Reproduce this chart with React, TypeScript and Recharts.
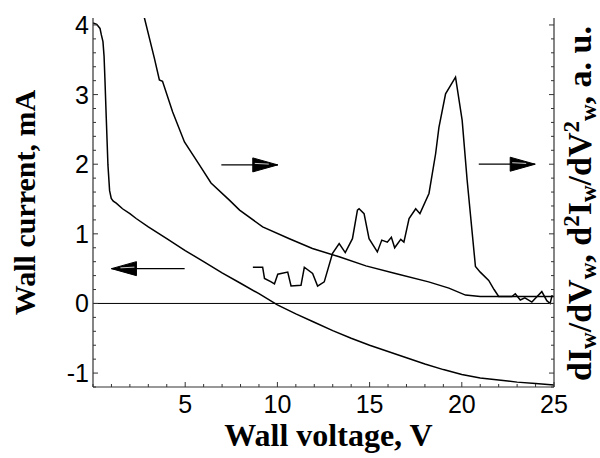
import React from 'react';
import { LineChart, Line, XAxis, YAxis, ReferenceLine, ReferenceDot, Label } from 'recharts';

// Wall current (left axis, mA)
const currentV = [0, 0.2, 0.38, 0.45, 0.54, 0.6, 0.65, 0.72, 0.81, 0.9, 0.99, 1.1, 1.26, 1.6, 2, 2.34, 3, 4, 5, 6, 7, 8, 9, 10, 11, 12, 13, 14, 15, 16, 17, 18, 19, 20, 21, 22, 23, 24, 25];
const currentI = [4.03, 4.01, 3.95, 3.86, 3.76, 3.55, 3.2, 2.66, 1.99, 1.62, 1.51, 1.47, 1.44, 1.36, 1.29, 1.22, 1.1, 0.93, 0.76, 0.6, 0.44, 0.29, 0.14, -0.02, -0.15, -0.27, -0.39, -0.5, -0.6, -0.69, -0.78, -0.87, -0.95, -1.02, -1.07, -1.1, -1.13, -1.15, -1.17];

// dIw/dVw (right axis, a.u.)
const derivV = [2.5, 2.79, 3.33, 3.6, 3.77, 4.32, 4.96, 5.77, 6.4, 7.41, 7.95, 9.2, 10.65, 11.9, 13.35, 14.8, 16.4, 18.2, 19.3, 20.2, 21.0, 21.8, 23.5, 25];
const derivI = [4.45, 4.1, 3.52, 3.21, 3.19, 2.75, 2.32, 1.99, 1.73, 1.48, 1.34, 1.1, 0.93, 0.79, 0.67, 0.54, 0.43, 0.31, 0.22, 0.12, 0.1, 0.1, 0.1, 0.1];

// d2Iw/dVw2 (right axis, a.u.)
const deriv2V = [8.67, 9.2, 9.3, 9.66, 9.84, 10.02, 10.56, 10.74, 11.28, 11.46, 11.91, 12.18, 12.54, 12.99, 13.35, 13.68, 14.07, 14.34, 14.43, 14.7, 14.97, 15.42, 15.66, 15.96, 16.18, 16.36, 16.69, 16.86, 17.14, 17.5, 17.73, 18.22, 18.58, 18.76, 19.12, 19.66, 20.02, 20.29, 20.74, 21.0, 21.46, 21.75, 22.0, 22.5, 22.72, 22.9, 23.17, 23.42, 23.8, 23.98, 24.34, 24.61, 24.79, 24.9];
const deriv2I = [0.52, 0.52, 0.36, 0.31, 0.28, 0.42, 0.45, 0.25, 0.26, 0.52, 0.43, 0.25, 0.31, 0.72, 0.86, 0.73, 0.93, 1.34, 1.36, 1.29, 0.93, 0.74, 0.91, 0.88, 0.95, 0.8, 0.92, 0.88, 1.22, 1.36, 1.29, 1.58, 2.15, 2.53, 3.01, 3.25, 2.63, 1.77, 0.53, 0.45, 0.33, 0.2, 0.1, 0.1, 0.1, 0.14, 0.05, 0.08, 0.02, 0.07, 0.17, 0.04, 0.0, 0.12];

const xTicks = [0, 1, 2, 3, 4, 5, 6, 7, 8, 9, 10, 11, 12, 13, 14, 15, 16, 17, 18, 19, 20, 21, 22, 23, 24, 25];
const xLabeled = [5, 10, 15, 20, 25];
const yTicks = [-1.2, -1, -0.8, -0.6, -0.4, -0.2, 0, 0.2, 0.4, 0.6, 0.8, 1, 1.2, 1.4, 1.6, 1.8, 2, 2.2, 2.4, 2.6, 2.8, 3, 3.2, 3.4, 3.6, 3.8, 4];
const yLabeled = [-1, 0, 1, 2, 3, 4];

// annotation arrows
const arrowTailX = [4.97, 6.96, 20.92];
const arrowTipX = [1.0, 10.02, 23.98];
const arrowY = [0.5, 1.99, 2.0];

const currentData = currentV.map((x, i) => ({ x, y: currentI[i] }));
const derivData = derivV.map((x, i) => ({ x, y: derivI[i] }));
const deriv2Data = deriv2V.map((x, i) => ({ x, y: deriv2I[i] }));

const FRAME = '#333';
const tickFont = '"Liberation Sans", Arial, sans-serif';
const labelFont = '"Liberation Serif", "Times New Roman", serif';

const isLabeled = (v: number, list: number[]) => list.some((l) => Math.abs(l - v) < 1e-6);

const BottomTick = (props: any) => {
  const { x, y, payload } = props;
  const major = isLabeled(payload.value, xLabeled);
  return (
    <g>
      <line x1={x} x2={x} y1={y} y2={y - (major ? 5 : 3)} stroke={FRAME} strokeWidth={1} />
      {major && (
        <text x={x} y={y + 26} textAnchor="middle" fontFamily={tickFont} fontSize={25} fill="#000">
          {payload.value}
        </text>
      )}
    </g>
  );
};

const TopTick = (props: any) => {
  const { x, y, payload } = props;
  const major = isLabeled(payload.value, xLabeled);
  return <line x1={x} x2={x} y1={y} y2={y + (major ? 5 : 3)} stroke={FRAME} strokeWidth={1} />;
};

const LeftTick = (props: any) => {
  const { x, y, payload } = props;
  const major = isLabeled(payload.value, yLabeled);
  return (
    <g>
      <line x1={x} x2={x + (major ? 5 : 3)} y1={y} y2={y} stroke={FRAME} strokeWidth={1} />
      {major && (
        <text x={x - 4} y={y + 9} textAnchor="end" fontFamily={tickFont} fontSize={25} fill="#000">
          {payload.value < 0 ? '-' + Math.abs(payload.value) : payload.value}
        </text>
      )}
    </g>
  );
};

const RightTick = (props: any) => {
  const { x, y, payload } = props;
  const major = isLabeled(payload.value, yLabeled);
  return <line x1={x} x2={x - (major ? 5 : 3)} y1={y} y2={y} stroke={FRAME} strokeWidth={1} />;
};

const BottomLabel = (props: any) => {
  const vb = props.viewBox || { x: 93, y: 387, width: 461 };
  return (
    <text x={vb.x + vb.width / 2 + 5} y={vb.y + 59} textAnchor="middle" fontFamily={labelFont} fontWeight="bold" fontSize={32} fill="#000">
      Wall voltage, V
    </text>
  );
};

const LeftLabel = (props: any) => {
  const vb = props.viewBox || { x: 0, y: 18, width: 93, height: 369 };
  const cx = 35;
  const cy = vb.y + vb.height / 2;
  return (
    <text x={cx} y={cy} transform={`rotate(-90, ${cx}, ${cy})`} textAnchor="middle" fontFamily={labelFont} fontWeight="bold" fontSize={30} fill="#000">
      Wall current, mA
    </text>
  );
};

const RightLabel = (props: any) => {
  const vb = props.viewBox || { x: 554, y: 18, width: 46, height: 369 };
  const cx = 591;
  const cy = vb.y + vb.height / 2 + 1;
  const s = 23;
  return (
    <text x={cx} y={cy} transform={`rotate(-90, ${cx}, ${cy})`} textAnchor="middle" fontFamily={labelFont} fontWeight="bold" fontSize={34} fill="#000">
      <tspan>dI</tspan>
      <tspan dy={5} fontSize={s}>w</tspan>
      <tspan dy={-5}>/dV</tspan>
      <tspan dy={5} fontSize={s}>w</tspan>
      <tspan dy={-5}>, d</tspan>
      <tspan dy={-12} fontSize={s}>2</tspan>
      <tspan dy={12}>I</tspan>
      <tspan dy={5} fontSize={s}>w</tspan>
      <tspan dy={-5}>/dV</tspan>
      <tspan dy={-12} fontSize={s}>2</tspan>
      <tspan dy={17} fontSize={s}>w</tspan>
      <tspan dy={-5}>, a. u.</tspan>
    </text>
  );
};

const makeHead = (dir: number) => (props: any) => {
  const { cx, cy } = props;
  if (cx == null || cy == null) return <g />;
  const L = 25;
  const H = 7;
  const bx = cx + dir * L;
  return (
    <g>
      <path d={`M${cx},${cy} L${bx},${cy - H} L${bx},${cy + H} Z`} fill="#000" stroke="#000" strokeWidth={1} />
      <line x1={bx - dir * 2} y1={cy - 1.5} x2={cx + dir * 9} y2={cy - 0.8} stroke="#fff" strokeWidth={0.8} />
    </g>
  );
};

export default function App() {
  return (
    <div style={{ position: 'absolute', left: 0, top: 0 }}>
      <LineChart width={600} height={458} margin={{ top: 18, right: 0, bottom: 0, left: 0 }}>
        <XAxis
          xAxisId="b"
          type="number"
          dataKey="x"
          domain={[0, 25]}
          ticks={xTicks}
          interval={0}
          height={71}
          tickSize={0}
          tickMargin={0}
          tickLine={false}
          tick={<BottomTick />}
          axisLine={{ stroke: FRAME, strokeWidth: 1.2 }}
          allowDataOverflow
        >
          <Label content={<BottomLabel />} />
        </XAxis>
        <XAxis
          xAxisId="t"
          orientation="top"
          type="number"
          dataKey="x"
          domain={[0, 25]}
          ticks={xTicks}
          interval={0}
          height={0}
          tickSize={0}
          tickMargin={0}
          tickLine={false}
          tick={<TopTick />}
          axisLine={{ stroke: FRAME, strokeWidth: 1.2 }}
          allowDataOverflow
        />
        <YAxis
          yAxisId="l"
          type="number"
          domain={[-1.2, 4.1]}
          ticks={yTicks}
          interval={0}
          width={93}
          tickSize={0}
          tickMargin={0}
          tickLine={false}
          tick={<LeftTick />}
          axisLine={{ stroke: FRAME, strokeWidth: 1.2 }}
          allowDataOverflow
        >
          <Label content={<LeftLabel />} />
        </YAxis>
        <YAxis
          yAxisId="r"
          orientation="right"
          type="number"
          domain={[-1.2, 4.1]}
          ticks={yTicks}
          interval={0}
          width={46}
          tickSize={0}
          tickMargin={0}
          tickLine={false}
          tick={<RightTick />}
          axisLine={{ stroke: FRAME, strokeWidth: 1.2 }}
          allowDataOverflow
        >
          <Label content={<RightLabel />} />
        </YAxis>

        <ReferenceLine xAxisId="b" yAxisId="l" y={0} stroke="#000" strokeWidth={1} />

        <Line xAxisId="b" yAxisId="l" data={currentData} dataKey="y" type="linear" stroke="#000" strokeWidth={1.5} dot={false} isAnimationActive={false} />
        <Line xAxisId="b" yAxisId="r" data={derivData} dataKey="y" type="linear" stroke="#000" strokeWidth={1.5} dot={false} isAnimationActive={false} />
        <Line xAxisId="b" yAxisId="r" data={deriv2Data} dataKey="y" type="linear" stroke="#000" strokeWidth={1.5} dot={false} isAnimationActive={false} />

        {arrowTipX.map((tip, i) => (
          <ReferenceLine
            key={'s' + i}
            xAxisId="b"
            yAxisId="l"
            segment={[{ x: arrowTailX[i], y: arrowY[i] }, { x: tip, y: arrowY[i] }]}
            stroke="#000"
            strokeWidth={1.3}
          />
        ))}
        {arrowTipX.map((tip, i) => (
          <ReferenceDot
            key={'h' + i}
            xAxisId="b"
            yAxisId="l"
            x={tip}
            y={arrowY[i]}
            r={1}
            shape={makeHead(tip < arrowTailX[i] ? 1 : -1)}
          />
        ))}
      </LineChart>
    </div>
  );
}
